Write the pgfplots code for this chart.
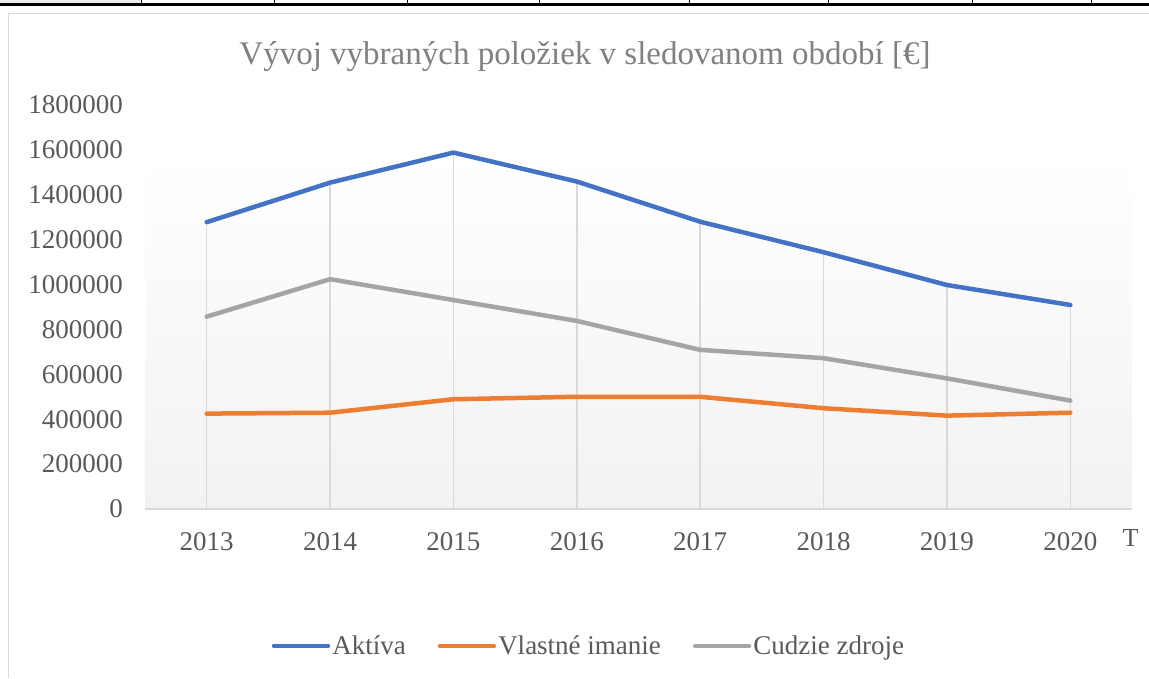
\documentclass[border=0pt]{standalone}
\usepackage{pgfplots}
\pgfplotsset{compat=1.18}
\usepackage{pgfplotstable}
\usepackage{fontspec}
\setmainfont{Liberation Serif}
\definecolor{cblue}{HTML}{4472C4}
\definecolor{corange}{HTML}{ED7D31}
\definecolor{cgray}{HTML}{A5A5A5}
\definecolor{cgrid}{HTML}{D9D9D9}
\definecolor{txt}{HTML}{595959}
\definecolor{ttl}{HTML}{808080}
\definecolor{bgb}{HTML}{F2F2F2}

\pgfplotstableread{
year aktiva vlastne cudzie
2013 1278000 425000 857000
2014 1454000 429000 1024000
2015 1588000 489000 931000
2016 1459000 500000 838000
2017 1280000 500000 709000
2018 1144000 449000 672000
2019 998000 416000 582000
2020 909000 429000 483000
}\data

\begin{document}
\begin{tikzpicture}[x=1pt,y=1pt]
% cropped table above the chart
\fill[gray!15] (0,675) rectangle (140,678);
\fill[black] (0,672) rectangle (1149,675);
\foreach \xx in {141,274,407,539,689,828,972,1091} {\draw[black, line width=1pt] (\xx,672) -- (\xx,678);}
% chart frame
\draw[cgrid, line width=1.5pt] (8.5,0) -- (8.5,664.5) -- (1149,664.5);
% title
\node[font=\fontsize{33}{40}\selectfont, text=ttl] at (585,621) {Vývoj vybraných položiek v sledovanom období [€]};
\begin{axis}[
  set layers,
  at={(145pt,169pt)}, anchor=south west,
  scale only axis, width=987pt, height=404pt,
  xmin=2012.5, xmax=2020.5, ymin=0, ymax=1800000,
  xtick={2013,2014,2015,2016,2017,2018,2019,2020},
  xticklabels={2013,2014,2015,2016,2017,2018,2019,2020},
  ytick={0,200000,400000,600000,800000,1000000,1200000,1400000,1600000,1800000},
  yticklabels={0,200000,400000,600000,800000,1000000,1200000,1400000,1600000,1800000},
  scaled y ticks=false,
  axis line style={draw=none},
  major tick length=0pt,
  tick style={draw=none},
  xticklabel style={font=\fontsize{27}{30}\selectfont, text=txt, inner sep=0pt, anchor=north, yshift=-23pt},
  yticklabel style={font=\fontsize{27}{30}\selectfont, text=txt, inner sep=0pt, anchor=east, xshift=-22pt},
  clip=false,
  legend style={draw=none, fill=none, at={(0.4498,-0.339)}, anchor=center,
    font=\fontsize{27}{30}\selectfont, text=txt,
    /tikz/every even column/.append style={column sep=30pt}},
  legend columns=3,
  legend cell align=left,
  legend image code/.code={\draw[#1, line cap=round] (-4pt,0pt) -- (50pt,0pt);},
]
\begin{pgfonlayer}{axis background}
\fill[top color=white, bottom color=bgb] (axis cs:2012.5,0) rectangle (axis cs:2020.5,1570000);
\draw[cgrid, line width=1.5pt] (axis cs:2012.5,0) -- (axis cs:2020.5,0);
\end{pgfonlayer}
\addplot[ycomb, color=cgrid, line width=1.5pt, forget plot] table[x=year, y=aktiva] {\data};
\addplot[cblue, line width=4.5pt, line cap=round, line join=round] table[x=year, y=aktiva] {\data};
\addlegendentry{Aktíva}
\addplot[corange, line width=4.5pt, line cap=round, line join=round] table[x=year, y=vlastne] {\data};
\addlegendentry{Vlastné imanie}
\addplot[cgray, line width=4.5pt, line cap=round, line join=round] table[x=year, y=cudzie] {\data};
\addlegendentry{Cudzie zdroje}
\end{axis}
\node[font=\fontsize{26}{30}\selectfont, text=txt, anchor=west] at (1119,140) {T};
\pgfresetboundingbox
\useasboundingbox (0,0) rectangle (1149,678);
\end{tikzpicture}
\end{document}
